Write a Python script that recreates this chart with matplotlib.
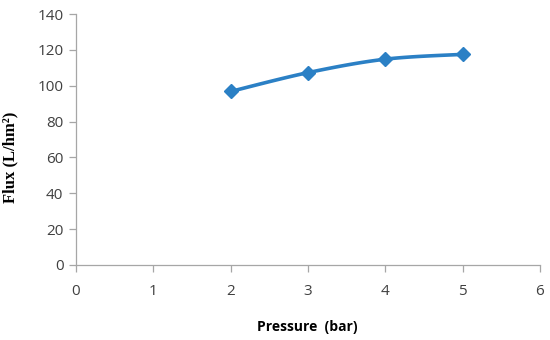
import numpy as np
import matplotlib.pyplot as plt

# Flux vs pressure
pressure = [2, 3, 4, 5]
flux = [96.8, 107.3, 114.8, 117.5]

x_ticks = [0, 1, 2, 3, 4, 5, 6]
y_ticks = [0, 20, 40, 60, 80, 100, 120, 140]
BLUE = "#2b80c5"
GREY = "#a6a6a6"


def smooth_curve(xs, ys, n=30):
    """Catmull-Rom style smoothing like Excel's smoothed line."""
    xs = np.asarray(xs, float)
    ys = np.asarray(ys, float)
    px = np.concatenate([[xs[0]], xs, [xs[-1]]])
    py = np.concatenate([[ys[0]], ys, [ys[-1]]])
    out_x, out_y = [], []
    t = np.linspace(0, 1, n)
    for i in range(1, len(px) - 2):
        for arr, out in ((px, out_x), (py, out_y)):
            p0, p1, p2, p3 = arr[i - 1], arr[i], arr[i + 1], arr[i + 2]
            seg = 0.5 * ((2 * p1) + (-p0 + p2) * t +
                         (2 * p0 - 5 * p1 + 4 * p2 - p3) * t ** 2 +
                         (-p0 + 3 * p1 - 3 * p2 + p3) * t ** 3)
            out.extend(seg)
    return np.array(out_x), np.array(out_y)


fig = plt.figure(figsize=(5.5, 3.4), dpi=100)
ax = fig.add_axes([76 / 550, 1 - 265 / 340, 464 / 550, 251 / 340])

cx, cy = smooth_curve(pressure, flux)
ax.plot(cx, cy, color=BLUE, lw=2.6, solid_capstyle="round", zorder=3)
ax.plot(pressure, flux, linestyle="none", marker="D", markersize=7,
        color=BLUE, zorder=4, clip_on=False)

ax.set_xlim(0, 6)
ax.set_ylim(0, 140)
ax.set_xticks(x_ticks)
ax.set_yticks(y_ticks)

for side in ("top", "right"):
    ax.spines[side].set_visible(False)
for side in ("left", "bottom"):
    ax.spines[side].set_color(GREY)
    ax.spines[side].set_linewidth(0.9)

ax.tick_params(axis="both", color=GREY, length=5, width=0.9,
               labelsize=11, labelcolor="#404040", pad=4)
ax.tick_params(axis="x", pad=9)
for lab in ax.get_xticklabels() + ax.get_yticklabels():
    lab.set_family("Open Sans")

ax.set_xlabel("Pressure  (bar)", fontsize=10, fontweight="bold",
              family="Open Sans", color="black")
ax.xaxis.set_label_coords(0.498, -0.22)
ax.set_ylabel("Flux (L/hm²)", fontsize=12, fontweight="bold",
              family="Liberation Serif", color="black")
ax.yaxis.set_label_coords(-0.125, 0.43)

plt.savefig("out.png", dpi=100)
